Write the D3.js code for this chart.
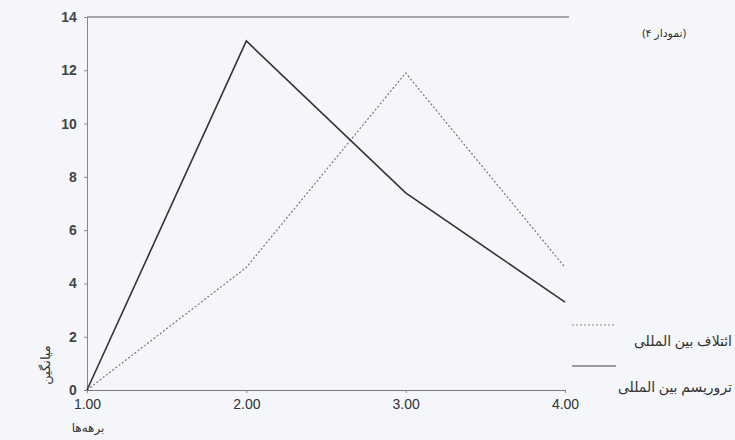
<!DOCTYPE html>
<html>
<head>
<meta charset="utf-8">
<script src="https://cdn.jsdelivr.net/npm/d3@7"></script>
<style>
body{margin:0;background:#f4f6f9;}
svg{display:block;}
.axis text{font-family:"Liberation Sans",Arial,sans-serif;font-size:14px;fill:#333;}
.lbl{font-family:"Noto Sans","DejaVu Sans",sans-serif;fill:#333;}
</style>
</head>
<body>
<div class="chart"></div>
<script>
// data
const periods = [1, 2, 3, 4];
const terrorism = [0, 13.1, 7.4, 3.3];   // solid line
const coalition = [0, 4.6, 11.9, 4.6];   // dotted line
const yTicks = [0, 2, 4, 6, 8, 10, 12, 14];
const seriesNames = ['ائتلاف بین المللی', 'تروریسم بین المللی'];

const svg_width = 735, svg_height = 440;
const margin = {top:17, right:170, bottom:50, left:87};
const chart_width = svg_width - margin.left - margin.right;
const chart_height = svg_height - margin.top - margin.bottom;

const svg = d3.select('.chart').append('svg')
  .attr('width', svg_width).attr('height', svg_height);
const g = svg.append('g').attr('transform', `translate(${margin.left},${margin.top})`);

const xScale = d3.scaleLinear().domain([1, 4]).range([0, chart_width]);
const yScale = d3.scaleLinear().domain([0, 14]).range([chart_height, 0]);

// top frame line
g.append('line')
  .attr('x1', 0).attr('x2', chart_width + 4)
  .attr('y1', yScale(14)).attr('y2', yScale(14))
  .style('stroke', '#555').style('stroke-width', 1.2);

const xAxis = d3.axisBottom(xScale).tickValues(periods).tickFormat(d3.format('.2f'))
  .tickSizeInner(3).tickSizeOuter(0);
const xAxisDraw = g.append('g').attr('class', 'x axis')
  .attr('transform', `translate(0,${chart_height})`).call(xAxis);
xAxisDraw.select('.domain').style('stroke', '#777');
xAxisDraw.selectAll('.tick line').style('stroke', '#888');
xAxisDraw.selectAll('text').attr('dy', '0.9em');

const yAxis = d3.axisLeft(yScale).tickValues(yTicks).tickSizeInner(3).tickSizeOuter(0);
const yAxisDraw = g.append('g').attr('class', 'y axis').call(yAxis);
yAxisDraw.select('.domain').style('stroke', '#888');
yAxisDraw.selectAll('.tick line').style('stroke', '#888');
yAxisDraw.selectAll('text').attr('dx', '-0.3em').style('font-weight', 'bold').style('fill', '#444');

const line = d3.line().x((d, i) => xScale(periods[i])).y(d => yScale(d));

g.append('path').datum(coalition).attr('d', line)
  .style('fill', 'none').style('stroke', '#777').style('stroke-width', 1.2)
  .style('stroke-dasharray', '2,2');
g.append('path').datum(terrorism).attr('d', line)
  .style('fill', 'none').style('stroke', '#333').style('stroke-width', 1.6);

// legend
const legend = svg.append('g').attr('transform', 'translate(572,0)');
legend.append('line').attr('x1', 0).attr('x2', 44).attr('y1', 325).attr('y2', 325)
  .style('stroke', '#888').style('stroke-dasharray', '2,2');
legend.append('text').attr('class', 'lbl').attr('x', 160).attr('y', 346)
  .attr('text-anchor', 'end').style('font-size', '14px').text(seriesNames[0]);
legend.append('line').attr('x1', 0).attr('x2', 44).attr('y1', 366).attr('y2', 366)
  .style('stroke', '#444');
legend.append('text').attr('class', 'lbl').attr('x', 160).attr('y', 392)
  .attr('text-anchor', 'end').style('font-size', '14px').text(seriesNames[1]);

// title
svg.append('text').attr('class', 'lbl').attr('x', 686).attr('y', 37)
  .attr('text-anchor', 'end').style('font-size', '11px').text('(نمودار ۴)');

// axis labels
svg.append('text').attr('class', 'lbl')
  .attr('transform', 'translate(50,365) rotate(-90)')
  .attr('text-anchor', 'middle').style('font-size', '13px').text('میانگین');
svg.append('text').attr('class', 'lbl').attr('x', 88).attr('y', 432)
  .attr('text-anchor', 'middle').style('font-size', '12px').text('برهه‌ها');
</script>
</body>
</html>
